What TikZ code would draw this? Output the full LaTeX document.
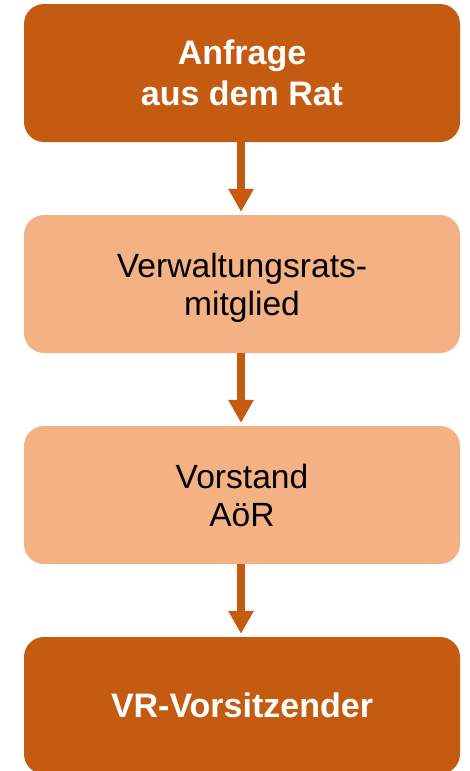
\documentclass[tikz,border=0pt]{standalone}
\usepackage{fontspec}
\setmainfont{Liberation Sans}
\usetikzlibrary{arrows.meta}
\definecolor{darkor}{HTML}{C55A11}
\definecolor{lightor}{HTML}{F4B183}
\tikzset{
  boxbase/.style={rectangle, rounded corners=20pt, minimum width=436pt, minimum height=138pt, inner sep=0pt, align=center, text depth=0pt},
  darkbox/.style={boxbase, fill=darkor, text=white, font=\fontsize{34}{41}\selectfont\bfseries},
  lightbox/.style={boxbase, fill=lightor, text=black, font=\fontsize{33.6}{38}\selectfont},
  flowarrow/.style={draw=darkor, line width=8.5pt, -{Triangle[length=23pt,width=24pt]}, shorten >=3pt}
}
\begin{document}
\begin{tikzpicture}[x=1pt,y=-1pt]
\useasboundingbox (0,0) rectangle (470,771);
\clip (0,0) rectangle (470,771);
\node[darkbox] (b1) at (242,73) {Anfrage\\aus dem Rat};
\node[lightbox] (b2) at (242,284) {Verwaltungsrats-\\mitglied};
\node[lightbox] (b3) at (242,495) {Vorstand\\AöR};
\node[darkbox, minimum height=137pt] (b4) at (242,705.5) {VR-Vorsitzender};
\draw[flowarrow] ([xshift=-1pt]b1.south) -- ([xshift=-1pt]b2.north);
\draw[flowarrow] ([xshift=-1pt]b2.south) -- ([xshift=-1pt]b3.north);
\draw[flowarrow] ([xshift=-1pt]b3.south) -- ([xshift=-1pt]b4.north);
\end{tikzpicture}
\end{document}
